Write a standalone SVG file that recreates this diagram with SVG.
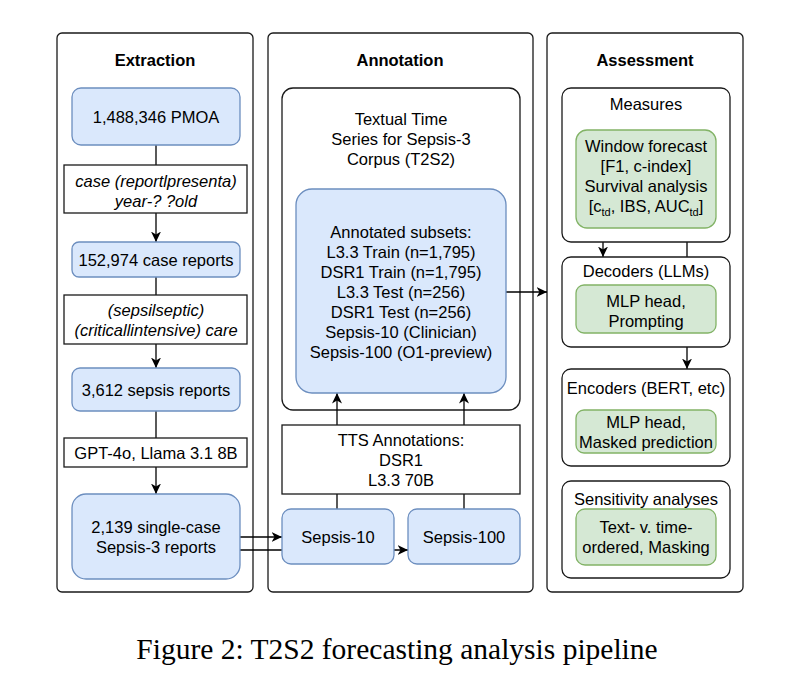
<svg xmlns="http://www.w3.org/2000/svg" width="794" height="697" viewBox="0 0 794 697">
<defs>
<style>
text{font-family:"Liberation Sans",Arial,sans-serif;font-size:16.5px;fill:#000;text-anchor:middle}
.title{font-weight:bold}
.it{font-style:italic}
.cap{font-family:"Liberation Serif","Times New Roman",serif;font-size:29.5px}
.panel{fill:#fff;stroke:#1a1a1a;stroke-width:1.3}
.cont{fill:#fff;stroke:#1a1a1a;stroke-width:1.3}
.blue{fill:#dae8fc;stroke:#6c8ebf;stroke-width:1.3}
.green{fill:#d5e8d4;stroke:#82b366;stroke-width:1.3}
.plain{fill:#fff;stroke:#1a1a1a;stroke-width:1.3}
.c{fill:none;stroke:#000;stroke-width:1.3}
.sub{font-size:11px}
</style>
<marker id="ah" markerUnits="userSpaceOnUse" markerWidth="11" markerHeight="10" viewBox="0 0 11 10" refX="10.5" refY="5" orient="auto">
<path d="M0,0 L10.5,5 L0,10 L3,5 z" fill="#000"/>
</marker>
</defs>
<rect width="794" height="697" fill="#fff"/>

<g id="panel-extraction">
<rect class="panel" x="57" y="33" width="196" height="559" rx="5"/>
<text class="title" x="155" y="66">Extraction</text>
</g>
<g id="panel-annotation">
<rect class="panel" x="268" y="33" width="265" height="559" rx="5"/>
<text class="title" x="400" y="66">Annotation</text>
</g>
<g id="panel-assessment">
<rect class="panel" x="547" y="33" width="196" height="559" rx="5"/>
<text class="title" x="645" y="66">Assessment</text>
</g>
<g id="t2s2-corpus">
<rect class="cont" x="282" y="88" width="238" height="322" rx="11"/>
<text x="401" y="125">Textual Time</text>
<text x="401" y="145">Series for Sepsis-3</text>
<text x="401" y="165">Corpus (T2S2)</text>
</g>

<g id="connectors">
<line class="c" x1="156" y1="145" x2="156" y2="165"/>
<line class="c" x1="156" y1="213" x2="156" y2="242" marker-end="url(#ah)"/>
<line class="c" x1="156" y1="277" x2="156" y2="295"/>
<line class="c" x1="156" y1="344" x2="156" y2="368" marker-end="url(#ah)"/>
<line class="c" x1="156" y1="411" x2="156" y2="438"/>
<line class="c" x1="156" y1="467" x2="156" y2="494" marker-end="url(#ah)"/>
<line class="c" x1="240" y1="537" x2="282" y2="537" marker-end="url(#ah)"/>
<line class="c" x1="240" y1="550" x2="408" y2="550" marker-end="url(#ah)"/>
<line class="c" x1="337" y1="509" x2="337" y2="393" marker-end="url(#ah)"/>
<line class="c" x1="464" y1="509" x2="464" y2="393" marker-end="url(#ah)"/>
<line class="c" x1="506" y1="292" x2="547" y2="292" marker-end="url(#ah)"/>
<line class="c" x1="603" y1="242" x2="603" y2="257" marker-end="url(#ah)"/>
<line class="c" x1="687" y1="242" x2="687" y2="369" marker-end="url(#ah)"/>
</g>

<g id="pmoa">
<rect class="blue" x="72" y="88" width="168" height="57" rx="9"/>
<text x="156" y="123">1,488,346 PMOA</text>
</g>
<g id="filter-case">
<rect class="plain" x="64" y="165" width="183" height="48"/>
<text class="it" x="156" y="187">case (reportlpresenta)</text>
<text class="it" x="156" y="207">year-? ?old</text>
</g>
<g id="case-reports">
<rect class="blue" x="72" y="242" width="168" height="35" rx="7"/>
<text x="156" y="266">152,974 case reports</text>
</g>
<g id="filter-sepsis">
<rect class="plain" x="64" y="295" width="183" height="49"/>
<text class="it" x="156" y="316">(sepsilseptic)</text>
<text class="it" x="156" y="336">(criticallintensive) care</text>
</g>
<g id="sepsis-reports">
<rect class="blue" x="72" y="368" width="168" height="43" rx="8"/>
<text x="156" y="396">3,612 sepsis reports</text>
</g>
<g id="llm-filter">
<rect class="plain" x="64" y="438" width="183" height="29"/>
<text x="156" y="458.5">GPT-4o, Llama 3.1 8B</text>
</g>
<g id="single-case">
<rect class="blue" x="72" y="494" width="168" height="85" rx="14"/>
<text x="156" y="532.5">2,139 single-case</text>
<text x="156" y="552.5">Sepsis-3 reports</text>
</g>

<g id="annotated-subsets">
<rect class="blue" x="296" y="189" width="210" height="204" rx="16"/>
<text x="401" y="237.5">Annotated subsets:</text>
<text x="401" y="257.5">L3.3 Train (n=1,795)</text>
<text x="401" y="277.5">DSR1 Train (n=1,795)</text>
<text x="401" y="297.5">L3.3 Test (n=256)</text>
<text x="401" y="317.5">DSR1 Test (n=256)</text>
<text x="401" y="337.5">Sepsis-10 (Clinician)</text>
<text x="401" y="357.5">Sepsis-100 (O1-preview)</text>
</g>
<g id="tts-annotations">
<rect class="plain" x="282" y="425" width="238" height="69"/>
<text x="401" y="445.5">TTS Annotations:</text>
<text x="401" y="465.5">DSR1</text>
<text x="401" y="485.5">L3.3 70B</text>
</g>
<g id="sepsis-10">
<rect class="blue" x="282" y="509" width="112" height="55" rx="9"/>
<text x="338" y="542.5">Sepsis-10</text>
</g>
<g id="sepsis-100">
<rect class="blue" x="408" y="509" width="112" height="55" rx="9"/>
<text x="464" y="542.5">Sepsis-100</text>
</g>

<g id="measures">
<rect class="cont" x="562" y="88" width="168" height="154" rx="9"/>
<text x="646" y="110">Measures</text>
<rect class="green" x="576" y="130" width="140" height="98" rx="11"/>
<text x="646" y="152">Window forecast</text>
<text x="646" y="172">[F1, c-index]</text>
<text x="646" y="192">Survival analysis</text>
<text x="646" y="212">[c<tspan class="sub" dy="4">td</tspan><tspan dy="-4">, IBS, AUC</tspan><tspan class="sub" dy="4">td</tspan><tspan dy="-4">]</tspan></text>
</g>
<g id="decoders">
<rect class="cont" x="562" y="257" width="168" height="90" rx="9"/>
<text x="646" y="277">Decoders (LLMs)</text>
<rect class="green" x="576" y="285" width="140" height="48" rx="8"/>
<text x="646" y="307">MLP head,</text>
<text x="646" y="327">Prompting</text>
</g>
<g id="encoders">
<rect class="cont" x="562" y="369" width="168" height="97" rx="9"/>
<text x="646" y="394">Encoders (BERT, etc)</text>
<rect class="green" x="576" y="410" width="140" height="43" rx="8"/>
<text x="646" y="428">MLP head,</text>
<text x="646" y="448">Masked prediction</text>
</g>
<g id="sensitivity">
<rect class="cont" x="562" y="481" width="168" height="97" rx="9"/>
<text x="646" y="505">Sensitivity analyses</text>
<rect class="green" x="576" y="509" width="140" height="56" rx="9"/>
<text x="646" y="532.5">Text- v. time-</text>
<text x="646" y="552.5">ordered, Masking</text>
</g>

<text class="cap" x="397" y="659">Figure 2: T2S2 forecasting analysis pipeline</text>
</svg>
